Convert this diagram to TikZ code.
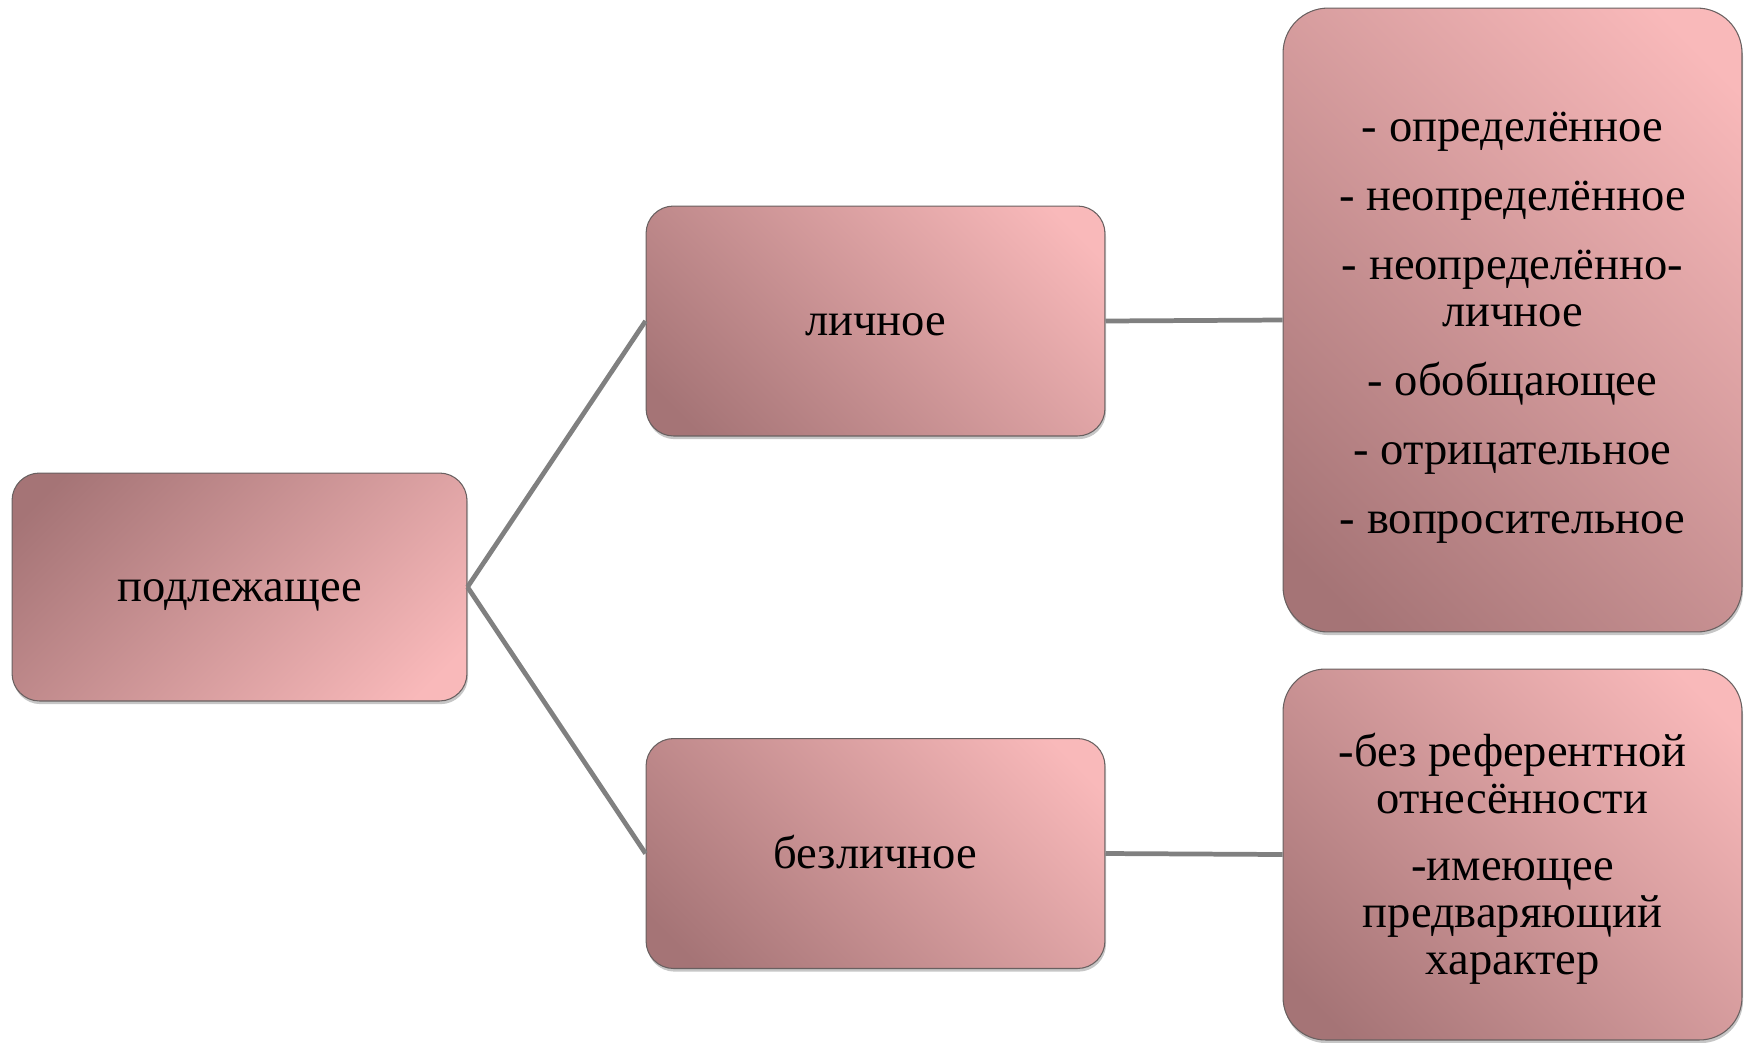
\documentclass[tikz,border=0pt]{standalone}
\usepackage{fontspec}
\setmainfont{Liberation Serif}
\usetikzlibrary{shadows}
\definecolor{pinkdark}{RGB}{165,116,118}
\definecolor{pinklight}{RGB}{249,185,186}
\definecolor{boxedge}{RGB}{105,96,96}
\definecolor{linkgray}{RGB}{128,128,128}
\pgfdeclareverticalshading{pinkfade}{100bp}{color(0bp)=(pinkdark); color(20bp)=(pinkdark); color(80bp)=(pinklight); color(100bp)=(pinklight)}
\begin{document}
\begin{tikzpicture}[x=0.02cm,y=-0.02cm,
  nodebox/.style={draw=boxedge,line width=0.6pt,align=center,inner sep=0pt,
    minimum width=9.18cm,font=\fontsize{26.5}{26.7}\selectfont,shading=pinkfade,
    drop shadow={shadow xshift=0.6pt,shadow yshift=-1.8pt,opacity=0.45}},
  onewordbox/.style={nodebox,text height=23pt,text depth=6pt},
  rootbox/.style={onewordbox,rounded corners=0.55cm,shading angle=-135},
  subbox/.style={onewordbox,rounded corners=0.55cm,shading angle=-45},
  listbox/.style={nodebox,shading angle=-45},
  connector/.style={draw=linkgray,line width=2.7pt}]
\useasboundingbox (0,0) rectangle (1747,1042);

\node[rootbox,minimum width=9.1cm,minimum height=4.56cm](podl) at (239.5,587) {подлежащее};
\node[subbox,minimum height=4.6cm](lich) at (875.5,321) {личное};
\node[subbox,minimum height=4.6cm](bezl) at (875.5,853.5) {безличное};
\node[listbox,rounded corners=0.9cm,minimum height=12.48cm](lichtypes) at (1512.5,320)
  {\rule{0pt}{0.9cm}- определённое\\[0.44cm]- неопределённое\\[0.44cm]- неопределённо-\\личное\\[0.44cm]- обобщающее\\[0.44cm]- отрицательное\\[0.44cm]- вопросительное};
\node[listbox,rounded corners=0.85cm,minimum height=7.42cm](bezltypes) at (1512.5,854.5)
  {\rule{0pt}{0.85cm}-без референтной\\отнесённости\\[0.4cm]-имеющее\\предваряющий\\характер};

\draw[connector] (podl.east) -- (lich.west);
\draw[connector] (podl.east) -- (bezl.west);
\draw[connector] (lich.east) -- (lichtypes.west);
\draw[connector] (bezl.east) -- (bezltypes.west);
\end{tikzpicture}
\end{document}
